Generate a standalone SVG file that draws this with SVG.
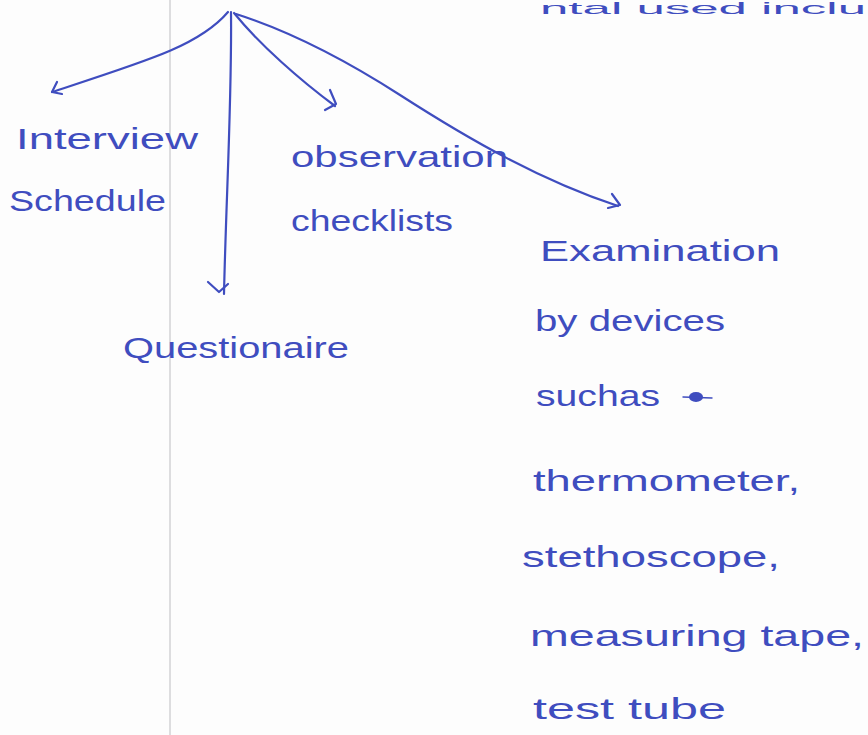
<svg xmlns="http://www.w3.org/2000/svg" width="868" height="735" viewBox="0 0 868 735">
<style>
  .ink{fill:none;stroke:#3f4dbf;stroke-width:2.2;stroke-linecap:round;stroke-linejoin:round}
  .t{font-family:"Liberation Sans",Arial,sans-serif;fill:#3f4dbf;font-size:29px}
</style>
<rect width="868" height="735" fill="#fdfdfd"/>
<line x1="170" y1="0" x2="170" y2="735" stroke="#c8c8cc" stroke-width="1.2"/>
<g id="title"><text class="t" x="540" y="14" style="font-size:17px" textLength="326" lengthAdjust="spacingAndGlyphs">ntal used inclu</text></g>
<g id="connectors">
  <path class="ink" d="M228,12 C200,45 150,60 52,92"/>
  <path class="ink" d="M57,82 L52,92 L62,94"/>
  <path class="ink" d="M231,12 C232,100 226,200 224,294"/>
  <path class="ink" d="M208,282 L219,292 L228,284"/>
  <path class="ink" d="M234,13 C260,45 300,80 335,106"/>
  <path class="ink" d="M330,90 L336,104 L325,110"/>
  <path class="ink" d="M236,14 C280,28 330,50 400,95 C470,140 540,180 618,206"/>
  <path class="ink" d="M612,194 L620,205 L608,208"/>
</g>
<g id="interview-schedule">
  <text class="t" x="16" y="149" textLength="182" lengthAdjust="spacingAndGlyphs">Interview</text>
  <text class="t" x="9" y="211" textLength="157" lengthAdjust="spacingAndGlyphs">Schedule</text>
</g>
<g id="questionaire">
  <text class="t" x="123" y="358" textLength="226" lengthAdjust="spacingAndGlyphs">Questionaire</text>
</g>
<g id="observation-checklists">
  <text class="t" x="291" y="167" textLength="217" lengthAdjust="spacingAndGlyphs">observation</text>
  <text class="t" x="291" y="231" textLength="162" lengthAdjust="spacingAndGlyphs">checklists</text>
</g>
<g id="examination">
  <text class="t" x="540" y="261" textLength="240" lengthAdjust="spacingAndGlyphs">Examination</text>
  <text class="t" x="535" y="331" textLength="190" lengthAdjust="spacingAndGlyphs">by devices</text>
  <text class="t" x="536" y="406" textLength="124" lengthAdjust="spacingAndGlyphs">suchas</text>
  <ellipse cx="696" cy="397" rx="7" ry="5" fill="#3f4dbf"/>
  <path class="ink" d="M683,397 L712,398" style="stroke-width:1.4"/>
  <text class="t" x="533" y="491" textLength="267" lengthAdjust="spacingAndGlyphs">thermometer,</text>
  <text class="t" x="522" y="567" textLength="258" lengthAdjust="spacingAndGlyphs">stethoscope,</text>
  <text class="t" x="530" y="646" textLength="334" lengthAdjust="spacingAndGlyphs">measuring tape,</text>
  <text class="t" x="533" y="719" textLength="193" lengthAdjust="spacingAndGlyphs">test tube</text>
</g>
</svg>
